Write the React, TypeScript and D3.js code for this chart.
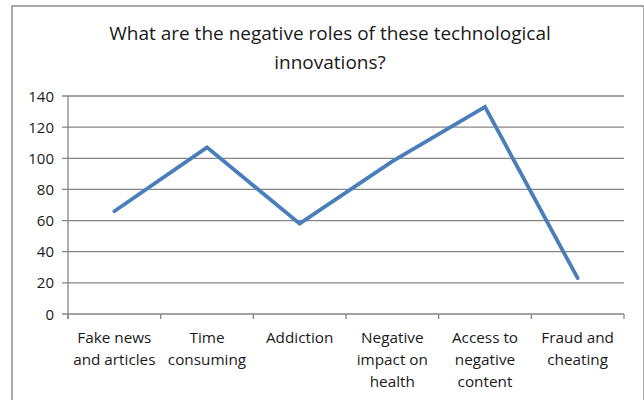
import React from "react";
import * as d3 from "d3";

const categories: string[][] = [
  ["Fake news", "and articles"],
  ["Time", "consuming"],
  ["Addiction"],
  ["Negative", "impact on", "health"],
  ["Access to", "negative", "content"],
  ["Fraud and", "cheating"],
];
const values: number[] = [66, 107, 58, 98, 133, 23];
const yTicks: number[] = [0, 20, 40, 60, 80, 100, 120, 140];
const titleLines: string[] = [
  "What are the negative roles of these technological",
  "innovations?",
];

const W = 644;
const H = 400;
const left = 68;
const right = 624;
const top = 96;
const bottom = 314;
const font = "'Open Sans', 'Liberation Sans', sans-serif";
const grid = "#868686";

export default function App() {
  const idx = categories.map((_, i) => String(i));
  const x = d3.scaleBand<string>().domain(idx).range([left, right]);
  const y = d3.scaleLinear().domain([0, 140]).range([bottom, top]);
  const line = d3
    .line<number>()
    .x((_, i) => (x(String(i)) as number) + x.bandwidth() / 2)
    .y((d) => y(d));
  const bounds = idx.map((i) => x(i) as number).concat([right]);

  return (
    <svg
      width={W}
      height={H}
      style={{ position: "absolute", left: 0, top: 0, background: "#fff" }}
    >
      <rect x={12} y={6} width={W - 12} height={H} fill="#fff" stroke="#8c8c8c" strokeWidth={1.5} />
      {titleLines.map((t, i) => (
        <text
          key={i}
          x={330}
          y={40 + i * 29}
          textAnchor="middle"
          fontFamily={font}
          fontSize={19}
          fill="#1a1a1a"
        >
          {t}
        </text>
      ))}
      {yTicks.map((t) => (
        <g key={t}>
          <line x1={left - 6} x2={right} y1={y(t)} y2={y(t)} stroke={grid} strokeWidth={1.3} />
          <text
            x={left - 14}
            y={y(t) + 5.5}
            textAnchor="end"
            fontFamily={font}
            fontSize={15}
            fill="#1a1a1a"
          >
            {t}
          </text>
        </g>
      ))}
      <line x1={left} x2={left} y1={top} y2={bottom + 5} stroke={grid} strokeWidth={1.3} />
      {bounds.map((b, i) => (
        <line key={i} x1={b} x2={b} y1={bottom} y2={bottom + 5} stroke={grid} strokeWidth={1.3} />
      ))}
      {categories.map((lines, i) => (
        <text
          key={i}
          textAnchor="middle"
          fontFamily={font}
          fontSize={15.3}
          fill="#1a1a1a"
        >
          {lines.map((l, j) => (
            <tspan
              key={j}
              x={(x(String(i)) as number) + x.bandwidth() / 2}
              y={343 + j * 22}
            >
              {l}
            </tspan>
          ))}
        </text>
      ))}
      <path
        d={line(values) as string}
        fill="none"
        stroke="#4a7ebb"
        strokeWidth={3.8}
        strokeLinejoin="miter"
        strokeLinecap="round"
      />
    </svg>
  );
}
